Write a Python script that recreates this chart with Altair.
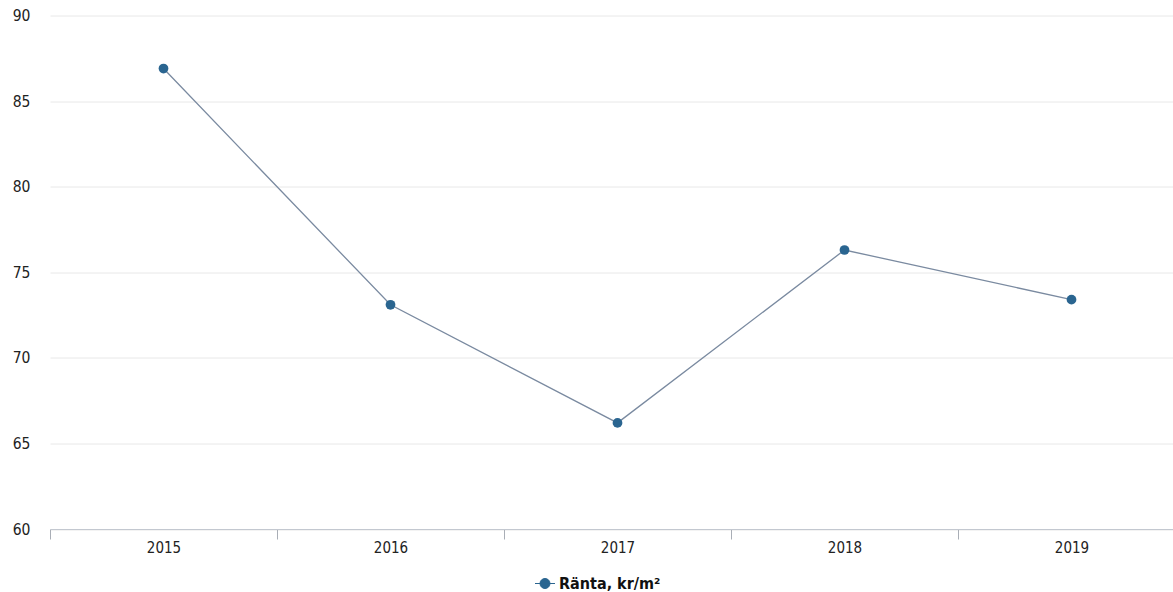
import altair as alt
import pandas as pd

years = ["2015", "2016", "2017", "2018", "2019"]
values = [86.9, 73.1, 66.2, 76.3, 73.4]
series = "Ränta, kr/m²"

df = pd.DataFrame({"year": years, "value": values, "series": [series] * len(years)})

FONT = "DejaVu Sans Condensed, DejaVu Sans, sans-serif"

x = alt.X(
    "year:O",
    title=None,
    scale=alt.Scale(type="band", paddingInner=0, paddingOuter=0, rangeMax={"expr": "width + 12"}),
    axis=alt.Axis(
        labelAngle=0,
        tickBand="extent",
        tickSize=10,
        tickColor="#a9aeb6",
        domainColor="#c3c8d0",
        labelPadding=1,
        labelFontSize=15,
        labelColor="#222222",
        labelFont=FONT,
        grid=False,
    ),
)
y = alt.Y(
    "value:Q",
    title=None,
    scale=alt.Scale(domain=[60, 90], nice=False, zero=False),
    axis=alt.Axis(
        values=[60, 65, 70, 75, 80, 85, 90],
        ticks=False,
        tickSize=0,
        domain=False,
        labelPadding=20,
        labelFontSize=15.5,
        labelColor="#222222",
        labelFont=FONT,
        gridColor="#e8e8e8",
        gridWidth=1,
    ),
)

line = alt.Chart(df).mark_line(color="#7a8aa0", strokeWidth=1.3).encode(x=x, y=y)

symbol_path = "M -1.6 0 L 1.6 0 M 0.8 0 A 0.8 0.8 0 1 1 -0.8 0 A 0.8 0.8 0 1 1 0.8 0 Z"

points = alt.Chart(df).mark_point(filled=True, size=95, opacity=1).encode(
    x=x,
    y=y,
    color=alt.Color(
        "series:N",
        scale=alt.Scale(range=["#2a6590"]),
        legend=alt.Legend(
            title=None,
            orient="none",
            legendX=487,
            legendY=560,
            symbolType=symbol_path,
            symbolSize=156,
            symbolStrokeColor="#2a6590",
            symbolStrokeWidth=1,
            labelFont=FONT,
            labelFontSize=16,
            labelFontWeight="bold",
            labelColor="#111111",
            labelOffset=6,
        ),
    ),
)

chart = (
    alt.layer(line, points)
    .properties(
        width=1123,
        height=513.5,
        autosize=alt.AutoSizeParams(type="none"),
        padding={"left": 50, "top": 15.5, "right": 0, "bottom": 63},
        background="white",
    )
    .configure_view(stroke=None)
)

chart.save("out.html", embed_options={"renderer": "svg", "actions": False})
